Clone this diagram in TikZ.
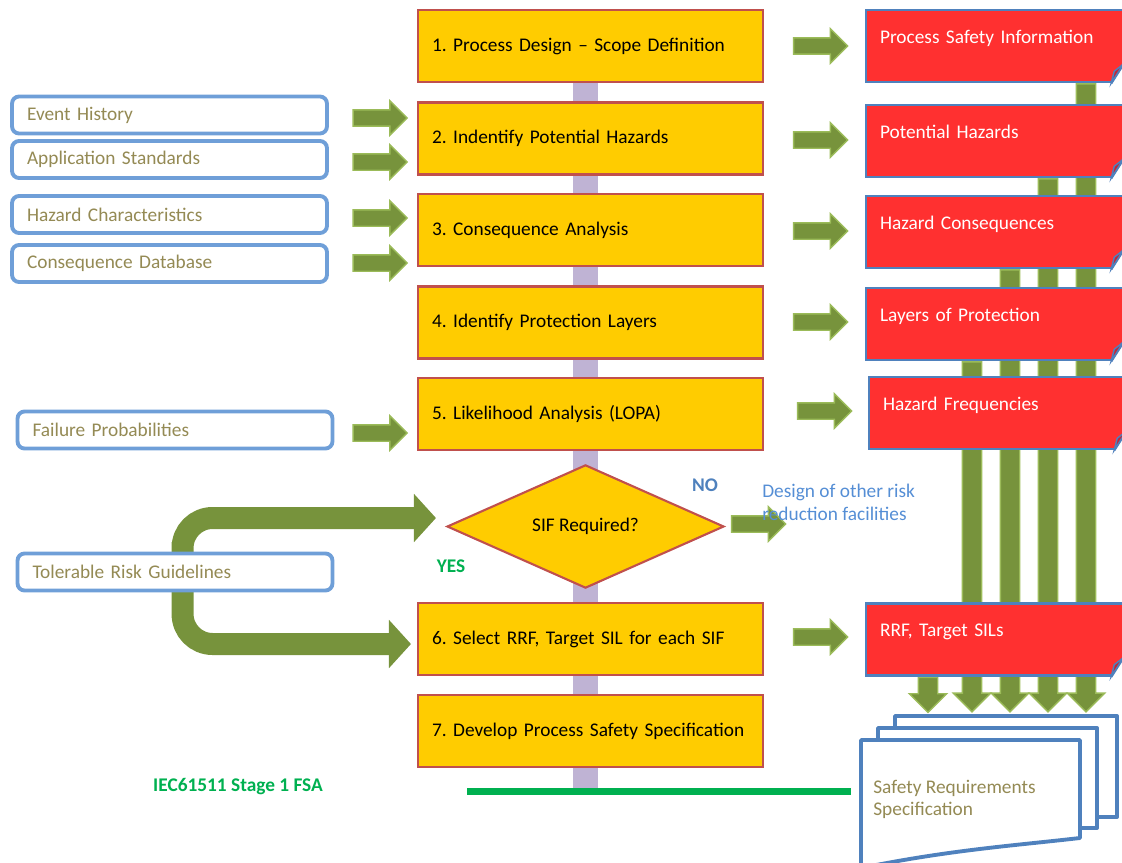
\documentclass[tikz,border=0pt]{standalone}
\usepackage{fontspec}
\setmainfont{Carlito}
\frenchspacing
\usetikzlibrary{shapes.geometric,shapes.arrows,arrows.meta,calc,backgrounds}
\definecolor{stepyellow}{HTML}{FFCC00}
\definecolor{stepred}{HTML}{C0504D}
\definecolor{docred}{HTML}{FF3030}
\definecolor{docblue}{HTML}{4F81BD}
\definecolor{inblue}{HTML}{6F9FD8}
\definecolor{olivetext}{HTML}{948A54}
\definecolor{arrowgreen}{HTML}{77933C}
\definecolor{arrowedge}{HTML}{9BBB59}
\definecolor{spinelilac}{HTML}{BFB3D4}
\definecolor{fsagreen}{HTML}{00B050}
\definecolor{designblue}{HTML}{558ED5}
\definecolor{folddark}{HTML}{C0283A}
\begin{document}
\begin{tikzpicture}[x=0.02cm, y=-0.02cm, font=\fontsize{11}{13}\selectfont,
	stepbox/.style={rectangle, fill=stepyellow, draw=stepred, line width=1.2pt, minimum width=6.9cm, minimum height=1.44cm, inner xsep=0.28cm, text width=6.34cm, align=left},
	inbox/.style={rectangle, rounded corners=0.14cm, fill=white, draw=inblue, line width=2.2pt, minimum width=6.3cm, minimum height=0.74cm, inner xsep=0.3cm, text width=5.7cm, align=left, text=olivetext},
	outdoc/.style={rectangle, fill=docred, draw=docblue, line width=1.4pt, minimum width=5.16cm, minimum height=1.44cm, inner xsep=0.28cm, text width=4.6cm, align=left, text=white, text height=8pt, text depth=11pt},
	flowarrow/.style={single arrow, fill=arrowgreen, draw=arrowedge, line width=0.8pt, minimum height=1.08cm, single arrow head extend=0.18cm, inner sep=0.15cm},
	vbar/.style={single arrow, fill=arrowgreen, draw=arrowedge, line width=0.8pt, single arrow head extend=0.18cm, inner sep=0.18cm, rotate=-90, anchor=tail},
	bendarrow/.style={draw=arrowgreen, line width=0.44cm, rounded corners=0.6cm, {Triangle[length=0.44cm, width=0.94cm]}-{Triangle[length=0.44cm, width=0.94cm]}},
	docpage/.style={fill=white, draw=docblue, line width=2.2pt, line join=round}]
	\useasboundingbox (0,0) rectangle (1122,862);
	
	% process steps
	\node[stepbox] (s1) at (590.5,46) {1. Process Design – Scope Definition};
	\node[stepbox] (s2) at (590.5,138.5) {2. Indentify Potential Hazards};
	\node[stepbox] (s3) at (590.5,230) {3. Consequence Analysis};
	\node[stepbox] (s4) at (590.5,322.5) {4. Identify Protection Layers};
	\node[stepbox] (s5) at (590.5,414) {5. Likelihood Analysis (LOPA)};
	\node[diamond, fill=stepyellow, draw=stepred, line width=1.2pt, minimum width=5.54cm, minimum height=2.18cm, inner sep=0pt] (sif) at (585.5,526.5) {SIF Required?};
	\node[stepbox] (s6) at (590.5,639) {6. Select RRF, Target SIL for each SIF};
	\node[stepbox] (s7) at (590.5,731) {7. Develop Process Safety Specification};
	\coordinate (spinefoot) at (585.5,788);
	
	% inputs
	\node[inbox] (evh) at (169.5,115) {Event History};
	\node[inbox] (aps) at (169.5,159.5) {Application Standards};
	\node[inbox] (hzc) at (169.5,214.5) {Hazard Characteristics};
	\node[inbox] (cdb) at (169.5,263.5) {Consequence Database};
	\node[inbox] (fpr) at (175,430) {Failure Probabilities};
	\node[inbox] (tol) at (175,572) {Tolerable Risk Guidelines};
	\coordinate (tolbend) at ($(tol.west)+(3.34cm,0)$);
	
	\node[flowarrow] (ia1) at (376,118) {};
	\node[flowarrow] (ia2) at (376,162) {};
	\node[flowarrow] (ia3) at (376,218) {};
	\node[flowarrow] (ia4) at (376,263) {};
	\node[flowarrow] (ia5) at (376,433) {};
	
	% outputs
	\node[outdoc] (psi) at (995,46) {Process Safety Information};
	\node[outdoc] (phz) at (995,141) {Potential Hazards};
	\node[outdoc] (hcq) at (995,232) {Hazard Consequences};
	\node[outdoc] (lop) at (995,324) {Layers of Protection};
	\node[outdoc] (hfq) at (998,413) {Hazard Frequencies};
	\node[outdoc] (rrf) at (995,639.5) {RRF, Target SILs};
	\foreach \d in {psi,phz,hcq,lop,hfq,rrf}{
		\fill[white] ([xshift=-0.28cm]\d.south east) -- ([yshift=0.44cm]\d.south east) -- ([xshift=0.1cm,yshift=0.44cm]\d.south east) -- ([xshift=0.1cm,yshift=-0.1cm]\d.south east) -- ([xshift=-0.28cm,yshift=-0.1cm]\d.south east) -- cycle;
		\draw[docblue, line width=1.4pt] ([xshift=-0.28cm]\d.south east) -- ([yshift=0.44cm]\d.south east);
		\filldraw[fill=folddark, draw=docblue, line width=0.8pt] ([xshift=-0.28cm]\d.south east) -- ([xshift=-0.22cm,yshift=0.24cm]\d.south east) -- ([xshift=-0.04cm,yshift=0.38cm]\d.south east) -- cycle;
	}
	
	\node[flowarrow] (oa1) at (816.5,46) {};
	\node[flowarrow] (oa2) at (816.5,140) {};
	\node[flowarrow] (oa3) at (816.5,231) {};
	\node[flowarrow] (oa4) at (816.5,322) {};
	\node[flowarrow] (oa5) at (820.5,411) {};
	\node[flowarrow] (oa6) at (816.5,637) {};
	\node[flowarrow] (noarrow) at (754.5,524) {};
	
	\node[text=docblue, font=\fontsize{11}{13}\selectfont\bfseries] (no) at (705,485) {NO};
	\node[text=fsagreen, font=\fontsize{11}{13}\selectfont\bfseries] (yes) at (451,566) {YES};
	\node[text=designblue, anchor=west, inner sep=0pt, align=left] (design) at (762,502.5) {Design of other risk\\reduction facilities};
	
	% safety requirements specification
	\draw[docpage] (895,716) rectangle (1117,817);
	\draw[docpage] (878,728) rectangle (1097,828);
	\draw[docpage] (861,740) -- (1080,740) -- (1080,838) .. controls (1010,846) and (950,850) .. (861,868) -- cycle;
	\node[text=olivetext, anchor=west, inner sep=0pt, align=left, font=\fontsize{11}{12.5}\selectfont] (srs) at (873,799) {Safety Requirements\\Specification};
	\coordinate (fsastart) at (467,791.5);
	\coordinate (fsaend) at (851,791.5);
	\draw[fsagreen, line width=0.14cm] (fsastart) -- (fsaend);
	\node[text=fsagreen, font=\fontsize{11}{13}\selectfont\bfseries] (fsa) at (238,787) {IEC61511 Stage 1 FSA};
	
	\coordinate (b1) at (1086,0);
	\coordinate (b2) at (1048,0);
	\coordinate (b3) at (1010,0);
	\coordinate (b4) at (972,0);
	\coordinate (b5) at (928,0);
	\begin{pgfonlayer}{background}
		\draw[spinelilac, line width=0.5cm] (s1.center -| spinefoot) -- (spinefoot);
		\draw[bendarrow] ($(sif.west)+(-0.2cm,0.17cm)$) -| (tolbend) |- ($(s6.west)+(-0.12cm,-0.1cm)$);
		\node[vbar, minimum height=12.56cm] (v1) at (psi.south -| b1) {};
		\node[vbar, minimum height=10.66cm] (v2) at (phz.south -| b2) {};
		\node[vbar, minimum height=8.84cm] (v3) at (hcq.south -| b3) {};
		\node[vbar, minimum height=7cm] (v4) at (lop.south -| b4) {};
		\node[vbar, minimum height=0.7cm] (v5) at (rrf.south -| b5) {};
	\end{pgfonlayer}
\end{tikzpicture}
\end{document}
